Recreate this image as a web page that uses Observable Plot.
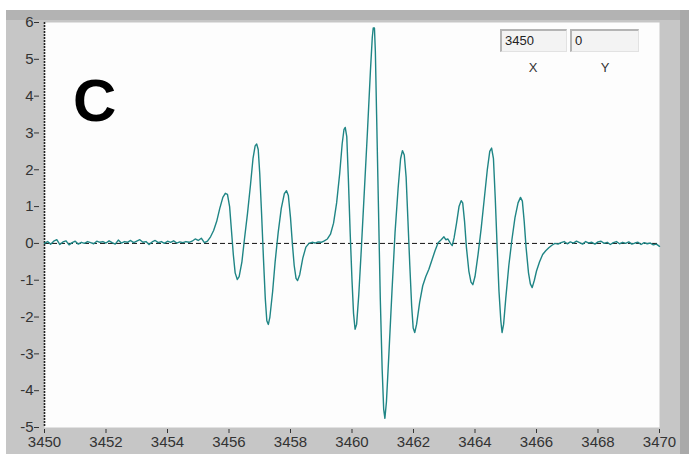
<!DOCTYPE html>
<html>
<head>
<meta charset="utf-8">
<script src="https://cdn.jsdelivr.net/npm/d3@7"></script>
<script src="https://cdn.jsdelivr.net/npm/@observablehq/plot@0.6"></script>
<style>
  html, body { margin: 0; padding: 0; background: #ffffff; }
  #wrap { position: relative; width: 689px; height: 454px; overflow: hidden; font-family: "Liberation Sans", Arial, sans-serif; }
  #panel { position: absolute; left: 6px; top: 10px; width: 683px; height: 444px; background: #c6c6c6; }
  #topband { position: absolute; left: 6px; top: 10px; width: 683px; height: 10px; background: #b3b3b3; }
  #rightband { position: absolute; left: 680px; top: 10px; width: 9px; height: 444px; background: #a9a9a9; }
  #chart { position: absolute; left: 0; top: 0; }
  #letter { position: absolute; left: 73px; top: 71px; font: bold 60px/60px "Liberation Sans", Arial, sans-serif; color: #000; }
  .box { position: absolute; top: 29px; height: 23px; background: #f3f3f3; border-top: 2px solid #b4b4b4; border-left: 2px solid #b4b4b4; border-right: 1px solid #e2e2e2; border-bottom: 1px solid #e2e2e2; box-sizing: border-box; font-size: 13px; line-height: 20px; padding-left: 3px; color: #222; }
  .lab { position: absolute; top: 60px; font-size: 13px; color: #333; width: 20px; text-align: center; }
</style>
</head>
<body>
<div id="wrap">
  <div id="panel"></div>
  <div id="topband"></div>
  <div id="rightband"></div>
  <div id="chart"></div>
  <div id="letter">C</div>
  <div class="box" style="left:500px;width:67px;">3450</div>
  <div class="box" style="left:570px;width:69px;">0</div>
  <div class="lab" style="left:523px;">X</div>
  <div class="lab" style="left:595px;">Y</div>
</div>
<script>
// Magnetic field (G)
const field = [
  3450.0,3450.1,3450.2,3450.3,3450.4,3450.5,3450.6,3450.7,3450.8,3450.9,
  3451.0,3451.1,3451.2,3451.3,3451.4,3451.5,3451.6,3451.7,3451.8,3451.9,
  3452.0,3452.1,3452.2,3452.3,3452.4,3452.5,3452.6,3452.7,3452.8,3452.9,
  3453.0,3453.1,3453.2,3453.3,3453.4,3453.5,3453.6,3453.7,3453.8,3453.9,
  3454.0,3454.1,3454.2,3454.3,3454.4,3454.5,3454.6,3454.7,3454.8,3454.9,
  3455.0,3455.1,3455.2,3455.3,3455.4,3455.5,3455.6,3455.7,3455.8,3455.88,
  3455.95,3456.02,3456.08,3456.14,3456.2,3456.27,3456.33,3456.42,3456.5,3456.6,
  3456.7,3456.78,3456.85,3456.9,3456.95,3457.0,3457.06,3457.12,3457.18,3457.23,
  3457.28,3457.33,3457.42,3457.5,3457.6,3457.7,3457.8,3457.87,3457.93,3458.0,
  3458.06,3458.12,3458.18,3458.23,3458.3,3458.4,3458.5,3458.6,3458.7,3458.8,
  3458.9,3459.0,3459.1,3459.2,3459.3,3459.4,3459.5,3459.6,3459.68,3459.74,
  3459.78,3459.83,3459.88,3459.94,3460.0,3460.05,3460.1,3460.15,3460.22,3460.3,
  3460.4,3460.5,3460.6,3460.66,3460.69,3460.73,3460.76,3460.8,3460.86,3460.92,
  3460.98,3461.03,3461.07,3461.12,3461.2,3461.3,3461.4,3461.5,3461.58,3461.64,
  3461.7,3461.76,3461.82,3461.88,3461.94,3461.99,3462.04,3462.1,3462.2,3462.3,
  3462.4,3462.5,3462.6,3462.7,3462.8,3462.9,3462.99,3463.05,3463.12,3463.2,
  3463.26,3463.32,3463.4,3463.48,3463.55,3463.6,3463.66,3463.72,3463.8,3463.87,
  3463.93,3464.0,3464.1,3464.2,3464.3,3464.4,3464.48,3464.54,3464.6,3464.66,
  3464.72,3464.78,3464.84,3464.88,3464.93,3465.0,3465.1,3465.2,3465.3,3465.4,
  3465.48,3465.54,3465.6,3465.66,3465.74,3465.8,3465.86,3465.93,3466.0,3466.1,
  3466.2,3466.3,3466.4,3466.5,3466.6,3466.7,3466.8,3466.9,3467.0,3467.1,
  3467.2,3467.3,3467.4,3467.5,3467.6,3467.7,3467.8,3467.9,3468.0,3468.1,
  3468.2,3468.3,3468.4,3468.5,3468.6,3468.7,3468.8,3468.9,3469.0,3469.1,
  3469.2,3469.3,3469.4,3469.5,3469.6,3469.7,3469.8,3469.9,3470.0
];
// EPR signal (a.u.)
const signal = [
  0.00,0.05,-0.02,0.06,0.10,-0.03,0.04,0.07,-0.04,0.02,
  0.06,-0.02,0.03,0.00,0.05,0.02,-0.01,0.06,0.03,0.05,
  0.01,0.07,0.02,-0.02,0.09,0.01,0.05,0.03,0.08,0.02,
  0.06,0.10,0.03,0.05,-0.03,0.04,0.08,0.02,0.05,0.00,
  0.06,0.03,0.07,0.01,0.04,0.02,0.05,0.03,0.06,0.12,
  0.08,0.14,0.02,0.06,0.18,0.35,0.60,0.95,1.25,1.36,
  1.33,1.00,0.35,-0.30,-0.80,-0.98,-0.90,-0.50,0.10,0.80,
  1.60,2.30,2.65,2.70,2.55,1.90,0.80,-0.40,-1.50,-2.10,
  -2.20,-2.00,-1.30,-0.50,0.30,0.95,1.35,1.43,1.30,0.70,
  0.00,-0.60,-0.95,-1.01,-0.85,-0.40,-0.10,0.00,0.03,0.01,
  0.04,0.03,0.07,0.12,0.25,0.55,1.10,1.90,2.70,3.10,
  3.15,2.90,1.80,0.30,-1.00,-1.90,-2.33,-2.20,-1.40,-0.20,
  1.40,3.00,4.70,5.60,5.85,5.85,5.20,3.50,1.00,-1.50,
  -3.40,-4.50,-4.75,-4.30,-3.00,-1.30,0.30,1.50,2.30,2.52,
  2.40,1.80,0.60,-0.60,-1.70,-2.30,-2.42,-2.20,-1.60,-1.15,
  -0.90,-0.70,-0.45,-0.20,0.02,0.10,0.18,0.10,0.12,0.00,
  -0.06,0.15,0.55,1.00,1.16,1.10,0.60,-0.10,-0.75,-1.05,
  -1.12,-0.90,-0.30,0.40,1.20,2.00,2.50,2.59,2.30,1.20,
  -0.10,-1.30,-2.10,-2.42,-2.20,-1.50,-0.60,0.10,0.70,1.10,
  1.25,1.15,0.60,-0.10,-0.80,-1.10,-1.20,-1.00,-0.75,-0.50,
  -0.30,-0.20,-0.12,-0.05,0.00,-0.02,0.02,0.05,-0.01,0.04,
  0.01,0.06,0.02,-0.02,0.05,0.01,0.03,-0.02,0.04,0.06,
  0.00,0.03,-0.03,0.02,0.05,-0.01,0.03,0.00,0.04,-0.02,
  0.01,0.03,-0.03,0.02,-0.01,0.01,-0.04,-0.02,-0.08
];
const xTicks = [3450,3452,3454,3456,3458,3460,3462,3464,3466,3468,3470];
const yTicks = [-5,-4,-3,-2,-1,0,1,2,3,4,5,6];

const data = field.map((f, i) => ({field: f, signal: signal[i]}));

const chart = Plot.plot({
  width: 689,
  height: 454,
  marginLeft: 44,
  marginRight: 30,
  marginTop: 22,
  marginBottom: 27,
  style: {background: "transparent", fontFamily: "'Liberation Sans', Arial, sans-serif", fontSize: "15px", color: "#333"},
  x: {domain: [3450, 3470]},
  y: {domain: [-5, 6]},
  marks: [
    Plot.frame({fill: "#fdfdfd", stroke: "none"}),
    Plot.axisX({ticks: xTicks, tickFormat: d => String(d), tickSize: 4, dy: 2, tickPadding: 3, label: null, fontSize: 15, fill: "#333", stroke: "#333"}),
    Plot.axisY({ticks: yTicks, tickFormat: d => String(d), tickSize: 5, dx: -5, tickPadding: 1, label: null, fontSize: 15, fill: "#333", stroke: "#333"}),
    Plot.ruleY([0], {stroke: "#111", strokeDasharray: "5,3", strokeWidth: 1}),
    Plot.ruleX([3450], {stroke: "#222", strokeDasharray: "2,1", strokeWidth: 1.6}),
    Plot.line(data, {x: "field", y: "signal", stroke: "#1f8585", strokeWidth: 1.4})
  ]
});
document.getElementById("chart").appendChild(chart);
</script>
</body>
</html>
